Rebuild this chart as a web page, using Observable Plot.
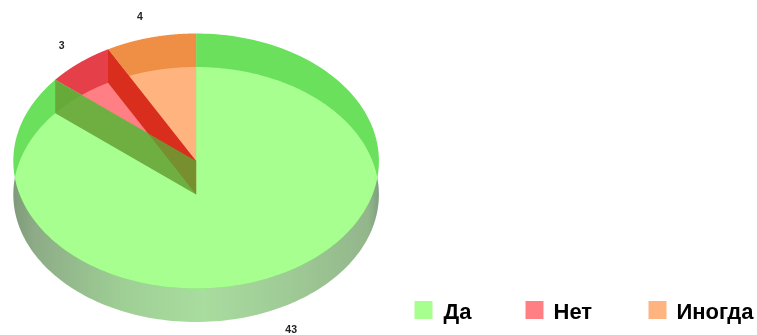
<!DOCTYPE html>
<html><head><meta charset="utf-8">
<style>html,body{margin:0;padding:0;background:#fff}svg{display:block;filter:blur(0.45px)}</style>
<script src="https://cdn.jsdelivr.net/npm/d3@7"></script>
<script src="https://cdn.jsdelivr.net/npm/@observablehq/plot@0.6"></script>
</head><body><div id="chart"></div>
<script>
const categories = ["Да", "Нет", "Иногда"];
const counts = [43, 3, 4];
const faceColors = ["#a6ff8f", "#ff7f85", "#ffb37f"];
const rimColors = ["#6ae05c", "#e5404a", "#ee8f45"];
const wallColors = ["#65a032", "#d92e1e"];
const legendSwatchX = [423, 534, 657];
const legendTextX = [443, 553, 676];
const labelNudgeX = [4, 2, -3];
const labelNudgeY = [0, 0, 0];

const W = 757, H = 335;
const cx = 195.6, cyTop = 160.5, rx = 182.8, ry = 127.5, depth = 33.5;
const d = depth / ry;

const pie = d3.pie().sort(null).value(v => v)(counts);
const sweep = (a0, a1) => d3.range(0, 241).map(i => a0 + (a1 - a0) * i / 240);
const px = (u, v, dy = 0) => ({x: cx + rx * u, y: cyTop - ry * v + dy});
const rim = (a, dy = 0) => px(Math.sin(a), Math.cos(a), dy);
const hit = a => -d * Math.cos(a) + Math.sqrt(d * d * Math.cos(a) ** 2 - d * d + 1);
const apex = px(0, 0);
const upperSector = s => [apex, ...sweep(s.startAngle, s.endAngle).map(a => rim(a))];
const innerSector = s => [apex, ...sweep(s.startAngle, s.endAngle).map(a => {
  const t = Math.min(1, hit(a));
  return px(t * Math.sin(a), t * Math.cos(a));
})];
const wall = a => [apex, rim(a), rim(a, depth), px(0, 0, depth)];
const lowerEllipse = sweep(0, 2 * Math.PI).map(a => rim(a, depth));

const poly = (pts, fill, extra = {}) =>
  Plot.line(pts, {x: "x", y: "y", fill, stroke: "none", ...extra});

const labelK = 1.17;
const labels = pie.map((s, i) => {
  const a = (s.startAngle + s.endAngle) / 2;
  const p = px(labelK * Math.sin(a), labelK * Math.cos(a), Math.cos(a) < 0 ? depth : 0);
  return {t: String(s.data), x: p.x + labelNudgeX[i], y: p.y + labelNudgeY[i]};
});

const gradient = () => {
  const NS = "http://www.w3.org/2000/svg";
  const defs = document.createElementNS(NS, "defs");
  const g = document.createElementNS(NS, "linearGradient");
  g.setAttribute("id", "side");
  [["0%", "#7f9a7a"], ["6%", "#8dac87"], ["30%", "#9fcf95"], ["52%", "#a9dc9f"], ["75%", "#9fcb96"], ["97%", "#93b68b"], ["100%", "#7f9f80"]].forEach(([o, c]) => {
    const st = document.createElementNS(NS, "stop");
    st.setAttribute("offset", o); st.setAttribute("stop-color", c);
    g.appendChild(st);
  });
  defs.appendChild(g);
  return defs;
};

const chart = Plot.plot({
  width: W, height: H,
  margin: 0,
  style: {background: "#fff"},
  x: {domain: [0, W], range: [0, W], axis: null},
  y: {domain: [0, H], range: [0, H], axis: null},
  marks: [
    gradient,
    poly(lowerEllipse, "url(#side)"),
    ...pie.map((s, i) => poly(upperSector(s), rimColors[i])),
    ...pie.map((s, i) => poly(innerSector(s), faceColors[i])),
    poly(wall(pie[1].endAngle), wallColors[1]),
    poly(wall(pie[1].startAngle), wallColors[0], {fillOpacity: 0.85}),
    Plot.text(labels, {x: "x", y: "y", text: "t", fontSize: 10.5, fontWeight: "bold", fontFamily: "Liberation Sans", fill: "#222"}),
    Plot.dot(categories, {x: (c, i) => legendSwatchX[i], y: () => 309.5, symbol: "square", r: 10.15, fill: (c, i) => faceColors[i], stroke: "none"}),
    Plot.text(categories, {x: (c, i) => legendTextX[i], y: () => 311, text: c => c, textAnchor: "start", fontSize: 22, fontWeight: "bold", fontFamily: "Liberation Sans", fill: "#000"})
  ]
});
document.getElementById("chart").appendChild(chart);
</script></body></html>
